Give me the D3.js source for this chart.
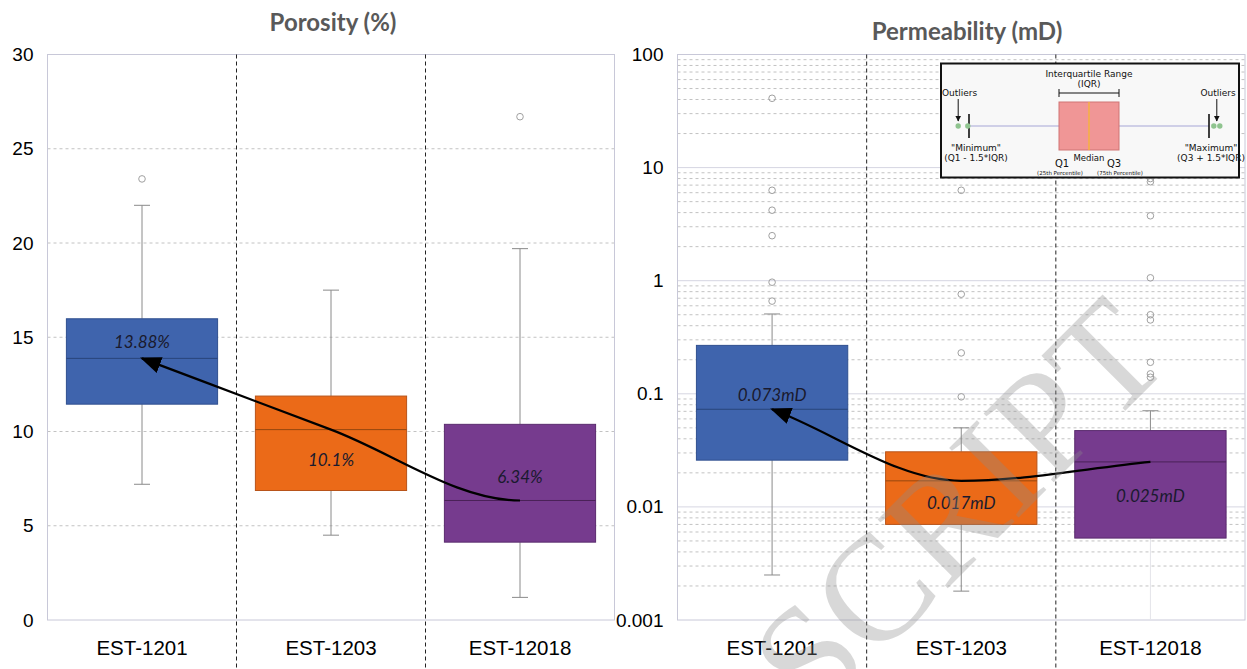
<!DOCTYPE html>
<html>
<head>
<meta charset="utf-8">
<script src="https://cdn.jsdelivr.net/npm/d3@7"></script>
<style>
body { margin: 0; background: #fff; }
svg { display: block; }
</style>
</head>
<body>
<svg width="1247" height="669"></svg>
<script>
'use strict';
//`d3` is loaded from the CDN line above

// wells (categories)
var wells = ['EST-1201', 'EST-1203', 'EST-12018'];

// porosity (%) box stats
var porMin = [7.2, 4.5, 1.2];
var porQ1 = [11.45, 6.87, 4.13];
var porMedian = [13.88, 10.1, 6.34];
var porQ3 = [15.98, 11.88, 10.38];
var porMax = [22.0, 17.5, 19.7];
var porOutliers = [[23.4], [], [26.7]];
var porLabels = ['13.88%', '10.1%', '6.34%'];
var porLabelAt = [14.75, 8.5, 7.6];
var porTicks = [0, 5, 10, 15, 20, 25, 30];

// permeability (mD) box stats
var permMin = [0.0025, 0.0018, 0.0008];
var permQ1 = [0.0259, 0.0070, 0.0053];
var permMedian = [0.073, 0.017, 0.025];
var permQ3 = [0.268, 0.0307, 0.0473];
var permMax = [0.508, 0.050, 0.0708];
var permOutliers = [
    [41, 6.3, 4.2, 2.5, 0.97, 0.66],
    [6.3, 0.76, 0.23, 0.094],
    [8.0, 7.5, 3.75, 1.06, 0.50, 0.45, 0.19, 0.15, 0.14]
];
var permLabels = ['0.073mD', '0.017mD', '0.025mD'];
var permLabelAt = [0.098, 0.0109, 0.0124];
var permTicks = [0.001, 0.01, 0.1, 1, 10, 100];

// box colours per well
var boxFill = ['#3f64ad', '#eb6a18', '#763b8e'];
var boxLine = ['#2f4f8f', '#b8541a', '#5a2b6e'];
var medLine = ['#29447a', '#95460f', '#4a2258'];

var svg = d3.select('svg');
var H = 669;

var defs = svg.append('defs');
defs.append('marker')
    .attr('id', 'head')
    .attr('viewBox', '0 0 20 16')
    .attr('markerUnits', 'userSpaceOnUse')
    .attr('markerWidth', 21).attr('markerHeight', 17)
    .attr('refX', 18).attr('refY', 8)
    .attr('orient', 'auto-start-reverse')
    .append('path').attr('d', 'M0,0 L20,8 L0,16 z').attr('fill', '#000');
defs.append('marker')
    .attr('id', 'smallhead')
    .attr('viewBox', '0 0 10 10')
    .attr('markerUnits', 'userSpaceOnUse')
    .attr('markerWidth', 6).attr('markerHeight', 6)
    .attr('refX', 9).attr('refY', 5)
    .attr('orient', 'auto')
    .append('path').attr('d', 'M0,0 L10,5 L0,10 z').attr('fill', '#111');

// smooth curve through points (x increasing); interior tangents monotone,
// last tangent flat if asked
function trendPath(pts, flatEnd) {
    var n = pts.length;
    var sec = [];
    for (var i = 0; i < n - 1; i++) {
        sec.push((pts[i + 1][1] - pts[i][1]) / (pts[i + 1][0] - pts[i][0]));
    }
    var m = pts.map(function (pt, i) {
        if (i === 0) return sec[0];
        if (i === n - 1) return flatEnd ? 0 : sec[n - 2];
        return sec[i - 1] * sec[i] <= 0 ? 0 : (sec[i - 1] + sec[i]) / 2;
    });
    var path = d3.path();
    path.moveTo(pts[0][0], pts[0][1]);
    for (var j = 0; j < n - 1; j++) {
        var h = (pts[j + 1][0] - pts[j][0]) / 3;
        path.bezierCurveTo(pts[j][0] + h, pts[j][1] + m[j] * h,
            pts[j + 1][0] - h, pts[j + 1][1] - m[j + 1] * h,
            pts[j + 1][0], pts[j + 1][1]);
    }
    return path.toString();
}

function drawPanel(p) {
    var x = d3.scaleBand().domain(wells).range([p.left, p.right]).padding(0);
    var y = p.y;
    var bw = x.bandwidth();
    var boxW = bw * 0.8;
    var top = y.range()[1], bottom = y.range()[0];
    var floor = y.domain()[0];
    var idx = d3.range(wells.length);
    var cx = function (i) { return x(wells[i]) + bw / 2; };
    var g = svg.append('g');

    // minor dashed grid
    g.selectAll('line.minor').data(p.minor).join('line')
        .attr('x1', p.left).attr('x2', p.right)
        .attr('y1', function (d) { return y(d); })
        .attr('y2', function (d) { return y(d); })
        .attr('stroke', '#c2c2c2').attr('stroke-dasharray', '3,3');
    // major solid grid
    g.selectAll('line.major').data(p.major).join('line')
        .attr('x1', p.left).attr('x2', p.right)
        .attr('y1', function (d) { return y(d); })
        .attr('y2', function (d) { return y(d); })
        .attr('stroke', '#d6d6e2');

    g.append('rect')
        .attr('x', p.left).attr('y', top)
        .attr('width', p.right - p.left).attr('height', bottom - top)
        .attr('fill', 'none').attr('stroke', '#c8c8d8');

    // dashed separators between wells
    g.selectAll('line.sep').data(wells.slice(1)).join('line')
        .attr('x1', function (d) { return x(d); })
        .attr('x2', function (d) { return x(d); })
        .attr('y1', top).attr('y2', H)
        .attr('stroke', '#222').attr('stroke-dasharray', '4,3');

    // whiskers (a whisker running past the axis floor is faint, no cap)
    var clipped = function (i) { return p.min[i] < floor; };
    g.selectAll('line.whiskUp').data(idx).join('line')
        .attr('x1', cx).attr('x2', cx)
        .attr('y1', function (i) { return y(p.max[i]); })
        .attr('y2', function (i) { return y(p.q3[i]); })
        .attr('stroke', '#8a8a8a');
    g.selectAll('line.whiskLo').data(idx).join('line')
        .attr('x1', cx).attr('x2', cx)
        .attr('y1', function (i) { return y(p.q1[i]); })
        .attr('y2', function (i) { return y(Math.max(p.min[i], floor)); })
        .attr('stroke', function (i) { return clipped(i) ? '#e4e4ea' : '#8a8a8a'; });
    g.selectAll('line.capmax').data(idx).join('line')
        .attr('x1', function (i) { return cx(i) - 8; })
        .attr('x2', function (i) { return cx(i) + 8; })
        .attr('y1', function (i) { return y(p.max[i]); })
        .attr('y2', function (i) { return y(p.max[i]); })
        .attr('stroke', '#8a8a8a');
    g.selectAll('line.capmin').data(idx.filter(function (i) { return !clipped(i); })).join('line')
        .attr('x1', function (i) { return cx(i) - 8; })
        .attr('x2', function (i) { return cx(i) + 8; })
        .attr('y1', function (i) { return y(p.min[i]); })
        .attr('y2', function (i) { return y(p.min[i]); })
        .attr('stroke', '#8a8a8a');

    // outliers
    var outs = [];
    idx.forEach(function (i) {
        p.outliers[i].forEach(function (v) { outs.push({ i: i, v: v }); });
    });
    g.selectAll('circle.out').data(outs).join('circle')
        .attr('cx', function (d) { return cx(d.i); })
        .attr('cy', function (d) { return y(d.v); })
        .attr('r', 3.3)
        .attr('fill', 'none').attr('stroke', '#a0a0a0');

    // boxes
    g.selectAll('rect.box').data(idx).join('rect')
        .attr('x', function (i) { return cx(i) - boxW / 2; })
        .attr('y', function (i) { return y(p.q3[i]); })
        .attr('width', boxW)
        .attr('height', function (i) { return y(p.q1[i]) - y(p.q3[i]); })
        .attr('fill', function (i) { return boxFill[i]; })
        .attr('stroke', function (i) { return boxLine[i]; });
    g.selectAll('line.med').data(idx).join('line')
        .attr('x1', function (i) { return cx(i) - boxW / 2; })
        .attr('x2', function (i) { return cx(i) + boxW / 2; })
        .attr('y1', function (i) { return y(p.median[i]); })
        .attr('y2', function (i) { return y(p.median[i]); })
        .attr('stroke', function (i) { return medLine[i]; });

    g.selectAll('text.lab').data(idx).join('text')
        .attr('x', cx)
        .attr('y', function (i) { return y(p.labelAt[i]); })
        .attr('dy', '0.35em')
        .attr('text-anchor', 'middle')
        .attr('font-family', 'Lato, "Open Sans", sans-serif')
        .attr('font-style', 'italic')
        .attr('font-size', 17)
        .attr('fill', '#1a1a2e')
        .text(function (i) { return p.labels[i]; });

    // trend arrow through medians, pointing at the first well
    g.append('path')
        .attr('d', trendPath(idx.map(function (i) { return [cx(i), y(p.median[i])]; }), p.flatEnd))
        .attr('fill', 'none').attr('stroke', '#000').attr('stroke-width', 2.2)
        .attr('marker-start', 'url(#head)');

    // axes
    var ya = g.append('g')
        .attr('transform', 'translate(' + p.left + ',0)')
        .call(d3.axisLeft(y).tickValues(p.ticks).tickFormat(p.fmt).tickSize(0).tickPadding(14));
    ya.select('.domain').remove();
    ya.selectAll('text').attr('font-family', '"Liberation Sans", Arial, sans-serif')
        .attr('font-size', 19).attr('fill', '#000');

    var xa = g.append('g')
        .attr('transform', 'translate(0,' + bottom + ')')
        .call(d3.axisBottom(x).tickSize(0).tickPadding(20));
    xa.select('.domain').remove();
    xa.selectAll('text').attr('font-family', '"Liberation Sans", Arial, sans-serif')
        .attr('font-size', 20.5).attr('fill', '#000');

    svg.append('text')
        .attr('x', p.titleX).attr('y', p.titleY)
        .attr('text-anchor', 'middle')
        .attr('font-family', 'Lato, "Open Sans", sans-serif')
        .attr('font-weight', 'bold')
        .attr('font-size', 24)
        .attr('fill', '#595959')
        .text(p.title);
}

// porosity panel
drawPanel({
    left: 47.5, right: 614.5,
    y: d3.scaleLinear().domain([0, 30]).range([620, 54.5]),
    ticks: porTicks, fmt: d3.format('d'),
    minor: porTicks.slice(1, -1), major: [],
    min: porMin, q1: porQ1, median: porMedian, q3: porQ3, max: porMax,
    outliers: porOutliers, labels: porLabels, labelAt: porLabelAt,
    flatEnd: true,
    title: 'Porosity (%)', titleX: 333, titleY: 30.5
});

// permeability panel (log scale)
var permMinor = [];
[0.001, 0.01, 0.1, 1, 10].forEach(function (dec) {
    d3.range(2, 10).forEach(function (m) { permMinor.push(dec * m); });
});
drawPanel({
    left: 677.5, right: 1245,
    y: d3.scaleLog().domain([0.001, 100]).range([620, 54.5]),
    ticks: permTicks, fmt: function (d) { return String(d); },
    minor: permMinor, major: permTicks.slice(1, -1),
    min: permMin, q1: permQ1, median: permMedian, q3: permQ3, max: permMax,
    outliers: permOutliers, labels: permLabels, labelAt: permLabelAt,
    flatEnd: false,
    title: 'Permeability (mD)', titleX: 967, titleY: 39.5
});

// box plot explanation inset (schematic, in IQR units: Q1 = 0, Q3 = 1)
var keyWhisk = [-1.5, 2.5];
var keyOutliers = [-1.68, -1.52, 2.58, 2.68];
var s = d3.scaleLinear().domain([0, 1]).range([1059, 1119]);
var key = svg.append('g').attr('font-family', '"DejaVu Sans", sans-serif').attr('fill', '#111');
key.append('rect').attr('x', 941).attr('y', 63.5).attr('width', 298).attr('height', 114)
    .attr('fill', '#f8f8f8').attr('stroke', '#111').attr('stroke-width', 2);
key.append('line').attr('x1', s(keyWhisk[0])).attr('x2', s(keyWhisk[1]))
    .attr('y1', 126).attr('y2', 126).attr('stroke', '#a6a6d6').attr('stroke-width', 1.2);
key.append('rect').attr('x', s(0)).attr('y', 102).attr('width', s(1) - s(0)).attr('height', 48)
    .attr('fill', '#f09696').attr('stroke', '#cf7474');
key.append('line').attr('x1', s(0.5)).attr('x2', s(0.5)).attr('y1', 102).attr('y2', 150)
    .attr('stroke', '#f6b13f').attr('stroke-width', 1.5);
key.selectAll('line.kcap').data(keyWhisk).join('line')
    .attr('x1', s).attr('x2', s).attr('y1', 114).attr('y2', 138)
    .attr('stroke', '#111').attr('stroke-width', 1.6);
key.selectAll('circle').data(keyOutliers).join('circle')
    .attr('cx', s).attr('cy', 126).attr('r', 2.7).attr('fill', '#8fc48f');
// IQR bracket
key.append('path')
    .attr('d', 'M' + s(0) + ',89V97M' + s(0) + ',93H' + s(1) + 'M' + s(1) + ',89V97')
    .attr('stroke', '#111').attr('fill', 'none');
// outlier arrows
[keyOutliers[0], (keyOutliers[2] + keyOutliers[3]) / 2].forEach(function (v) {
    key.append('line').attr('x1', s(v)).attr('x2', s(v)).attr('y1', 99).attr('y2', 121)
        .attr('stroke', '#111').attr('marker-end', 'url(#smallhead)');
});
var keyText = [
    { t: 'Interquartile Range', x: s(0.5), y: 77, f: 9 },
    { t: '(IQR)', x: s(0.5), y: 86.5, f: 9 },
    { t: 'Outliers', x: 959.5, y: 96, f: 9 },
    { t: 'Outliers', x: 1218, y: 96, f: 9 },
    { t: '"Minimum"', x: 976, y: 150.5, f: 9 },
    { t: '(Q1 - 1.5*IQR)', x: 976, y: 160.5, f: 9 },
    { t: '"Maximum"', x: 1211, y: 150.5, f: 9 },
    { t: '(Q3 + 1.5*IQR)', x: 1211, y: 160.5, f: 9 },
    { t: 'Median', x: s(0.5), y: 160.5, f: 8.5 },
    { t: 'Q1', x: s(0) + 3, y: 167, f: 10 },
    { t: 'Q3', x: s(1) - 5, y: 167, f: 10 },
    { t: '(25th Percentile)', x: s(0) + 1, y: 175, f: 5.5 },
    { t: '(75th Percentile)', x: s(1) + 1, y: 175, f: 5.5 }
];
key.selectAll('text').data(keyText).join('text')
    .attr('x', function (d) { return d.x; })
    .attr('y', function (d) { return d.y; })
    .attr('font-size', function (d) { return d.f; })
    .attr('text-anchor', 'middle')
    .text(function (d) { return d.t; });

// watermark
svg.append('text')
    .attr('transform', 'translate(994,542) rotate(-45)')
    .attr('text-anchor', 'middle')
    .attr('font-family', '"Liberation Serif", "DejaVu Serif", serif')
    .attr('font-size', 150)
    .attr('fill', '#8c8c8c')
    .attr('opacity', 0.33)
    .text('SCRIPT');
</script>
</body>
</html>
